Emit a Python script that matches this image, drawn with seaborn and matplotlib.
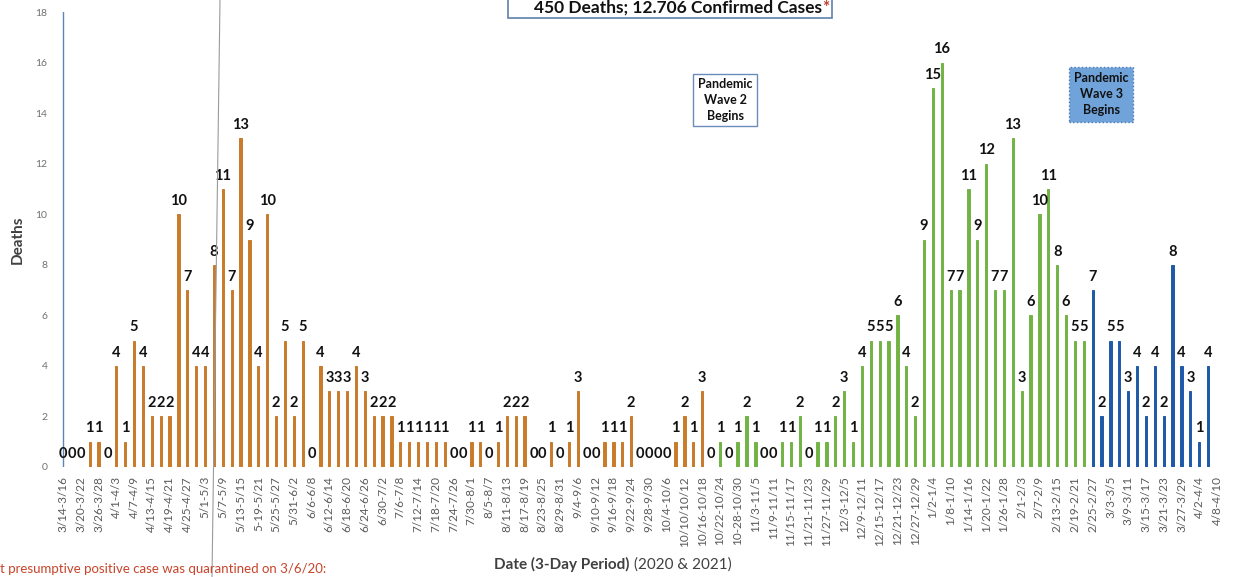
import matplotlib
matplotlib.use("Agg")
import matplotlib.pyplot as plt
import seaborn as sns
import pandas as pd
import numpy as np
from matplotlib.lines import Line2D
from matplotlib.patches import Rectangle

# ---------------- data ----------------
# deaths per 3-day period, starting 3/14/2020 (last period 4/8-4/10/2021 has no data yet)
deaths = [
    0, 0, 0, 1, 1, 0, 4, 1, 5, 4,          # 3/14 .. 4/10
    2, 2, 2, 10, 7, 4, 4, 8, 11, 7,        # 4/13 .. 5/10
    13, 9, 4, 10, 2, 5, 2, 5, 0, 4,        # 5/13 .. 6/9
    3, 3, 3, 4, 3, 2, 2, 2, 1, 1,          # 6/12 .. 7/9
    1, 1, 1, 1, 0, 0, 1, 1, 0, 1,          # 7/12 .. 8/8
    2, 2, 2, 0, 0, 1, 0, 1, 3, 0,          # 8/11 .. 9/7
    0, 1, 1, 1, 2, 0, 0, 0, 0, 1,          # 9/10 .. 10/7
    2, 1, 3, 0, 1, 0, 1, 2, 1, 0,          # 10/10 .. 11/6
    0, 1, 1, 2, 0, 1, 1, 2, 3, 1,          # 11/9 .. 12/6
    4, 5, 5, 5, 6, 4, 2, 9, 15, 16,        # 12/9 .. 1/5
    7, 7, 11, 9, 12, 7, 7, 13, 3, 6,       # 1/8 .. 2/4
    10, 11, 8, 6, 5, 5, 7, 2, 5, 5,        # 2/7 .. 3/6
    3, 4, 2, 4, 2, 8, 4, 3, 1, 4,          # 3/9 .. 4/5
]
n_periods = 131
first_period = "2020-03-14"
wave2_start = "2020-10-19"
wave3_start = "2021-02-25"
wave_names = ["Wave 1", "Wave 2", "Wave 3"]
wave_colors = ["#C97B2B", "#72B346", "#1F5AA8"]

tick_labels = [
    "3/14-3/16", "3/20-3/22", "3/26-3/28", "4/1-4/3", "4/7-4/9", "4/13-4/15",
    "4/19-4/21", "4/25-4/27", "5/1-5/3", "5/7-5/9", "5/13-5/15", "5-19-5/21",
    "5/25-5/27", "5/31-6/2", "6/6-6/8", "6/12-6/14", "6/18-6/20", "6/24-6/26",
    "6/30-7/2", "7/6-7/8", "7/12-7/14", "7/18-7/20", "7/24-7/26", "7/30-8/1",
    "8/5-8/7", "8/11-8/13", "8/17-8/19", "8/23-8/25", "8/29-8/31", "9/4-9/6",
    "9/10-9/12", "9/16-9/18", "9/22-9/24", "9/28-9/30", "10/4-10/6", "10/10/10/12",
    "10/16-10/18", "10/22-10/24", "10-28-10/30", "11/3-11/5", "11/9-11/11",
    "11/15-11/17", "11/21-11/23", "11/27-11/29", "12/3-12/5", "12/9-12/11",
    "12/15-12/17", "12/21-12/23", "12/27-12/29", "1/2-1/4", "1/8-1/10",
    "1/14-1/16", "1/20-1/22", "1/26-1/28", "2/1-2/3", "2/7-2/9", "2/13-2/15",
    "2/19-2/21", "2/25-2/27", "3/3-3/5", "3/9-3/11", "3/15-3/17", "3/21-3/23",
    "3/27-3/29", "4/2-4/4", "4/8-4/10",
]

title_text = "450 Deaths; 12.706 Confirmed Cases"
footnote = "t presumptive positive case was quarantined on 3/6/20:"

# ---------------- frame ----------------
starts = pd.date_range(first_period, periods=n_periods, freq="3D")
df = pd.DataFrame({"period": np.arange(len(deaths)),
                   "start": starts[:len(deaths)],
                   "deaths": deaths})
df["wave"] = np.where(df["start"] >= pd.Timestamp(wave3_start), wave_names[2],
              np.where(df["start"] >= pd.Timestamp(wave2_start), wave_names[1], wave_names[0]))

FONT = ["Lato", "DejaVu Sans"]
sns.set_theme(style="white")
plt.rcParams["font.family"] = FONT

W, H = 1235, 577
fig = plt.figure(figsize=(W / 100, H / 100), dpi=100)
ax = fig.add_axes([58.6 / W, 110 / H, 1162.8 / W, 455 / H])

sns.barplot(data=df, x="period", y="deaths", hue="wave",
            order=list(range(n_periods)), hue_order=wave_names,
            palette=dict(zip(wave_names, wave_colors)),
            dodge=False, width=0.26, errorbar=None, legend=False, ax=ax,
            saturation=1)
for p in ax.patches:
    p.set_edgecolor(p.get_facecolor())
    p.set_linewidth(0.7)

for c in ax.containers:
    ax.bar_label(c, fmt="%g", padding=4.5, fontsize=10.5, fontweight="bold",
                 color="#111111", family=FONT)

ax.set_xlim(-0.5, n_periods - 0.5)
ax.set_ylim(0, 18)
ax.set_yticks(range(0, 19, 2))
ax.tick_params(axis="y", length=0, pad=8, labelsize=7.5, labelcolor="#707070")
ax.set_xticks(range(0, n_periods, 2))
ax.set_xticklabels(tick_labels, rotation=90, fontsize=8.5, color="#5a5a5a")
ax.tick_params(axis="x", length=0, pad=6.5)
for s in ax.spines.values():
    s.set_visible(False)
ax.set_xlabel("")
ax.set_ylabel("Deaths", fontsize=11, fontweight="bold", color="#404040", labelpad=8)

# wave 1 marker line at first period
ax.axvline(0, ymin=0, ymax=1, color="#5b84b8", lw=1.0)

# title box (cut at top)
fig.add_artist(Rectangle((508 / W, (H - 18) / H), 324 / W, 0.06,
                         transform=fig.transFigure, fc="white", ec="#5f80ad",
                         lw=1.2, clip_on=False))
fig.text(822 / W, (H - 13) / H, title_text, ha="right", va="baseline",
         fontsize=12.5, fontweight="bold", color="#111111")
fig.text(822 / W, (H - 13) / H, "*", ha="left", va="baseline",
         fontsize=12.5, fontweight="bold", color="#C0392B")

# wave annotations
fig.text(725 / W, (H - 100) / H, "Pandemic\nWave 2\nBegins", ha="center", va="center",
         fontsize=9, fontweight="bold", color="#111111", linespacing=1.4,
         bbox=dict(boxstyle="square,pad=0.35", fc="white", ec="#6b8cb8", lw=1))
fig.text(1101 / W, (H - 94) / H, "Pandemic\nWave 3\nBegins", ha="center", va="center",
         fontsize=9, fontweight="bold", color="#111111", linespacing=1.45,
         bbox=dict(boxstyle="square,pad=0.4", fc="#6FA3DA", ec="#4a78b0", lw=1,
                   ls=":"))

# x label with mixed weights
fig.text(630 / W, 8 / H, "Date (3-Day Period)", ha="right", va="baseline",
         fontsize=11, fontweight="bold", color="#404040")
fig.text(634 / W, 8 / H, "(2020 & 2021)", ha="left", va="baseline",
         fontsize=11, color="#404040")

# footnote
fig.text(0.0, 4 / H, footnote, ha="left", va="baseline", fontsize=9.5,
         color="#C8442A")

# scan fold line
fig.add_artist(Line2D([220 / W, 212 / W], [1, 0], transform=fig.transFigure,
                      color="#9a9a9a", lw=0.8))

fig.savefig("out.png", dpi=100)
